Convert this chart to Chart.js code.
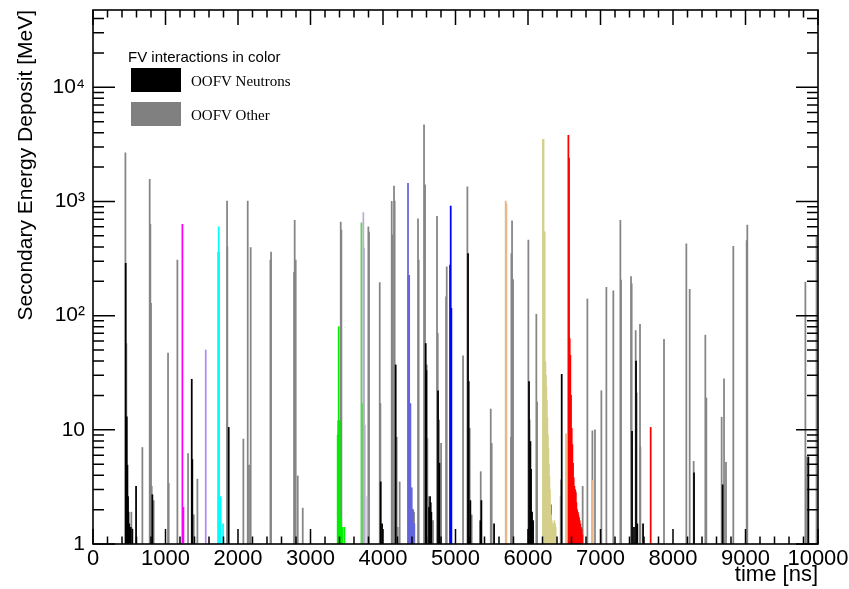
<!DOCTYPE html>
<html>
<head>
<meta charset="utf-8">
<script src="https://cdn.jsdelivr.net/npm/chart.js@4.4.1/dist/chart.umd.min.js"></script>
<style>
  html, body { margin: 0; padding: 0; background: #fff; }
</style>
</head>
<body>
<canvas id="deposit" width="849" height="589"></canvas>
<script>
// [time ns, energy MeV] per bin
const oofvNeutrons = [
  [451, 287], [466, 13], [475, 4.9], [483, 2.6], [490, 1.9], [500, 1.5], [520, 1.4], [543, 1.35],
  [594, 3.2], [819, 2.7], [1362, 27.7], [1370, 5.5], [1872, 10.5], [3968, 3.5], [3987, 1.5],
  [4175, 37], [4589, 57], [4598, 33], [4635, 2.1], [4649, 2.6], [4658, 2.3], [4667, 1.9],
  [4759, 22], [4778, 5.1], [5173, 350], [5182, 26.5], [5205, 2.4], [5343, 1.6], [5357, 2.4],
  [5532, 1.5], [6014, 26.5], [6033, 7.9], [6042, 4.5], [6056, 1.9], [6070, 1.6], [6313, 2.2],
  [6465, 30.6], [6713, 1.4], [7435, 9.7], [7462, 1.4], [7490, 40], [7508, 1.5], [7587, 1.5],
  [8290, 4.2], [8685, 3.3], [9867, 5.8]
];
const oofvOther = [
  [447, 2670], [460, 57], [529, 1.9], [681, 7.0], [782, 1560], [791, 630], [800, 128], [810, 3.2],
  [837, 2.4], [1035, 47], [1044, 3.4], [1164, 307], [1311, 6.2], [1375, 1.8], [1390, 1.8], [1440, 3.7],
  [1849, 1010], [1853, 400], [2074, 8.3], [2134, 1010], [2152, 4.9], [2175, 395], [2447, 307],
  [2456, 360], [2773, 240], [2782, 685], [2796, 307], [2824, 3.95], [2893, 2.06],
  [3417, 660], [3426, 560], [3798, 600], [3807, 540], [3955, 195], [3964, 17], [4120, 1000],
  [4129, 510], [4152, 1360], [4161, 1010], [4189, 8.6], [4203, 1.4], [4230, 3.5], [4428, 1.9],
  [4483, 705], [4492, 307], [4566, 4680], [4580, 1400], [4603, 37], [4612, 8.4], [4626, 2.6],
  [4690, 1.6], [4745, 740], [4755, 70], [4773, 12.2], [4801, 7.6], [4870, 146], [4879, 268],
  [5104, 44.5], [5164, 1340], [5196, 10.3], [5223, 1.8], [5348, 4.3], [5486, 15.2], [5499, 7.6],
  [5766, 8.6], [5771, 350], [5780, 675], [5794, 207], [6005, 458], [6023, 12.2], [6115, 103],
  [6125, 17.5], [6451, 2.6], [6456, 3.65], [6658, 2.9], [6685, 1.9], [6754, 3.2], [6819, 140],
  [6888, 9.8], [6924, 10], [7012, 22], [7081, 177], [7177, 165], [7274, 685], [7283, 205],
  [7421, 220], [7430, 190], [7485, 74], [7499, 21], [7545, 84], [7550, 7.1], [7876, 62],
  [8184, 425], [8230, 170], [8285, 5.3], [8446, 67.5], [8460, 19], [8671, 12.9], [8704, 28],
  [8731, 5.2], [8832, 405], [9016, 455], [9025, 620], [9826, 197], [9849, 5.8], [9980, 490]
];

// FV interactions, one colour each
const fvMagenta = [[1233, 630], [1247, 2.1]];
const fvViolet = [[1555, 50]];
const fvCyan = [[1725, 360], [1734, 600], [1740, 360], [1761, 2.6], [1794, 1.5]];
const fvGreen = [[3375, 9], [3382, 12], [3389, 80], [3396, 12], [3403, 12], [3412, 1.7], [3421, 1.7], [3440, 1.4], [3467, 1.4]];
const fvLightGreen = [[3702, 650], [3711, 17]];
const fvLilac = [[3729, 800], [3738, 390], [3748, 11], [3784, 2.6]];
const fvSlate = [[4345, 1440], [4352, 225], [4361, 225], [4370, 17], [4378, 16.9], [4387, 3.1], [4396, 3.1], [4405, 2.0], [4414, 2.0], [4423, 1.5], [4432, 1.5]];
const fvBlue = [[4925, 277], [4934, 910], [4943, 116]];
const fvTan = [[5692, 1010], [5702, 960], [6525, 9.2], [6892, 3.6]];
const fvKhaki = [
  [6207, 3500], [6214, 3500], [6221, 544], [6230, 540], [6240, 39.5], [6247, 30], [6253, 24],
  [6260, 18], [6267, 12.9], [6274, 9], [6281, 6.9], [6288, 5], [6295, 3.9], [6302, 3], [6309, 2.2],
  [6318, 1.8], [6327, 1.6], [6336, 1.5], [6345, 1.5], [6355, 1.4], [6364, 1.6], [6373, 1.5], [6382, 1.4]
];
const fvRed = [
  [6557, 3800], [6566, 2400], [6575, 63], [6584, 45], [6593, 20], [6603, 10.3], [6612, 7.4],
  [6621, 5.1], [6630, 3.8], [6640, 3.2], [6649, 3.0], [6658, 2.8], [6667, 2.3], [6676, 2.0],
  [6686, 1.9], [6695, 1.8], [6704, 1.7], [6713, 1.6], [6722, 1.5], [6731, 1.4], [6741, 1.35],
  [6750, 1.2], [7692, 10.5]
];

const fvSets = [
  [fvMagenta, '#ff00ff'], [fvViolet, '#b28cf0'], [fvCyan, '#00ffff'], [fvGreen, '#00ee00'],
  [fvLightGreen, '#66cc66'], [fvLilac, '#b8b0cc'], [fvSlate, '#6464dc'], [fvBlue, '#0000ff'],
  [fvTan, '#e8b88a'], [fvKhaki, '#d4cf8a'], [fvRed, '#ff0000']
];

const xTickVals = [0, 1000, 2000, 3000, 4000, 5000, 6000, 7000, 8000, 9000, 10000];
const yTickVals = [1, 10, 100, 1000, 10000];
const yTickText = ['1', '10', '10\u00b2', '10\u00b3', '10\u2074'];

const legendTitle = 'FV interactions in color';
const legendNames = ['OOFV Neutrons', 'OOFV Other'];
const legendColors = ['#000000', '#808080'];

function toPoints(hits) {
  return hits.map(h => ({x: h[0], y: h[1]}));
}

let datasets = fvSets.map(s => ({label: 'FV', data: toPoints(s[0]), backgroundColor: s[1]}));
datasets.push({label: 'OOFV Neutrons', data: toPoints(oofvNeutrons), backgroundColor: '#000000'});
datasets.push({label: 'OOFV Other', data: toPoints(oofvOther), backgroundColor: '#858585'});
datasets.forEach(d => {
  d.barThickness = 1.1;
  d.borderWidth = 0;
});

// ROOT style frame: ticks pointing inward on all four sides
const frameTicks = {
  id: 'frameTicks',
  afterDatasetsDraw(chart) {
    const {ctx, chartArea: a} = chart;
    const x = chart.scales.x, y = chart.scales.y;
    ctx.save();
    ctx.strokeStyle = '#000';
    ctx.lineWidth = 1.5;
    ctx.beginPath();
    for (let t = 0; t <= 10000; t += 200) {
      const px = x.getPixelForValue(t);
      const len = t % 1000 === 0 ? 15 : 7.5;
      ctx.moveTo(px, a.bottom); ctx.lineTo(px, a.bottom - len);
      ctx.moveTo(px, a.top); ctx.lineTo(px, a.top + len);
    }
    for (let d = 1; d <= 10000; d *= 10) {
      for (let k = 1; k <= 9; k++) {
        const v = d * k;
        if (v > y.max) break;
        const py = y.getPixelForValue(v);
        const len = k === 1 ? 22 : 11;
        ctx.moveTo(a.left, py); ctx.lineTo(a.left + len, py);
        ctx.moveTo(a.right, py); ctx.lineTo(a.right - len, py);
      }
    }
    ctx.stroke();
    ctx.lineWidth = 1.6;
    ctx.strokeRect(a.left, a.top, a.right - a.left, a.bottom - a.top);
    ctx.restore();
  }
};

const legendBox = {
  id: 'legendBox',
  afterDraw(chart) {
    const ctx = chart.ctx;
    ctx.save();
    ctx.textBaseline = 'alphabetic';
    ctx.fillStyle = '#000';
    ctx.font = '15px "Liberation Sans"';
    ctx.fillText(legendTitle, 128, 62);
    legendNames.forEach((name, i) => {
      const top = 68 + i * 34;
      ctx.fillStyle = legendColors[i];
      ctx.fillRect(131, top, 50, 24);
      ctx.fillStyle = '#000';
      ctx.font = '15px "Liberation Serif"';
      ctx.fillText(name, 191, top + 18);
    });
    ctx.restore();
  }
};

new Chart(document.getElementById('deposit'), {
  type: 'bar',
  data: {datasets: datasets},
  options: {
    responsive: false,
    animation: false,
    layout: {padding: {top: 10, right: 31, left: 0, bottom: 0}, autoPadding: false},
    plugins: {legend: {display: false}, tooltip: {enabled: false}},
    scales: {
      x: {
        type: 'linear',
        min: 0,
        max: 10000,
        offset: false,
        stacked: true,
        grid: {display: false, drawTicks: false},
        border: {display: false},
        afterBuildTicks: s => { s.ticks = xTickVals.map(v => ({value: v})); },
        afterFit: s => { s.height = 45; s.paddingLeft = 0; s.paddingRight = 0; },
        ticks: {
          autoSkip: false, maxRotation: 0, padding: 2, color: '#000',
          font: {family: 'Liberation Sans', size: 22},
          callback: v => String(v)
        },
        title: {
          display: true, text: 'time [ns]', align: 'end', color: '#000',
          font: {family: 'Liberation Sans', size: 22},
          padding: {top: 0, bottom: 1}
        }
      },
      y: {
        type: 'logarithmic',
        min: 1,
        max: 47500,
        stacked: false,
        grid: {display: false, drawTicks: false},
        border: {display: false},
        afterBuildTicks: s => { s.ticks = yTickVals.map(v => ({value: v})); },
        afterFit: s => { s.width = 93; s.paddingTop = 0; s.paddingBottom = 0; },
        ticks: {
          padding: 8, color: '#000',
          font: {family: 'Liberation Sans', size: 21},
          callback: v => yTickText[yTickVals.indexOf(v)]
        },
        title: {
          display: true, text: 'Secondary Energy Deposit [MeV]', align: 'end', color: '#000',
          font: {family: 'Liberation Sans', size: 21},
          padding: {top: 14, bottom: 0}
        }
      }
    }
  },
  plugins: [frameTicks, legendBox]
});
</script>
</body>
</html>
